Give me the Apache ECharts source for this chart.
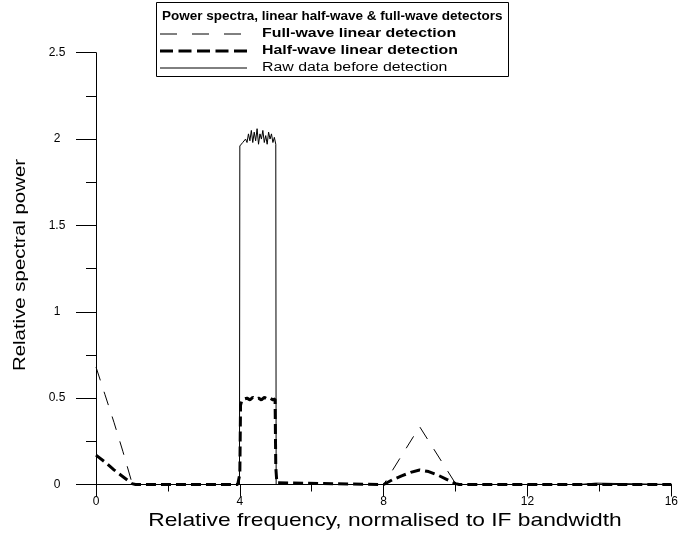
<!DOCTYPE html>
<html>
<head>
<meta charset="utf-8">
<script src="https://cdn.jsdelivr.net/npm/echarts@6/dist/echarts.min.js"></script>
<style>
  html, body { margin: 0; padding: 0; background: #fff; }
  #chart { width: 681px; height: 542px; }
</style>
</head>
<body>
<div id="chart"></div>
<script>
// Axis tick values
const xTickValues = [0, 4, 8, 12, 16];
const yTickValues = [0, 0.5, 1, 1.5, 2, 2.5];

// Raw IF signal spectrum (before detection)
const rawX = [0, 3.99, 4.00, 4.04, 4.08, 4.12, 4.16, 4.20, 4.24, 4.28, 4.32, 4.36, 4.40, 4.44, 4.48,
              4.52, 4.56, 4.60, 4.64, 4.68, 4.72, 4.76, 4.80, 4.84, 4.88, 4.92, 4.96, 5.00, 5.01,
              13.45, 13.5, 13.9, 13.95, 16];
const rawY = [0, 0, 1.96, 1.97, 1.98, 1.97, 2.00, 1.98, 2.03, 1.99, 2.05, 1.98, 2.04, 1.99, 2.06,
              1.97, 2.03, 2.00, 2.05, 1.98, 2.02, 1.97, 2.04, 2.00, 2.03, 1.98, 2.01, 1.97, 0,
              0, 0.008, 0.008, 0, 0];

// Full-wave linear detector output spectrum
const fullX = [0, 0.25, 0.5, 0.75, 1.0, 1.1, 8.0, 9.0, 10.0, 10.1, 16];
const fullY = [0.68, 0.52, 0.36, 0.19, 0.01, 0, 0, 0.335, 0.005, 0, 0];

// Half-wave linear detector output spectrum
const halfX = [0, 0.25, 0.5, 0.75, 1.0, 1.1, 3.94, 3.98, 4.0, 4.02, 4.06, 4.12, 4.2, 4.28, 4.36, 4.44,
               4.52, 4.6, 4.68, 4.76, 4.84, 4.92, 4.98, 5.0, 5.03, 5.08, 8.0, 8.25, 8.5, 8.75, 9.0,
               9.25, 9.5, 9.75, 10.0, 10.1, 16];
const halfY = [0.17, 0.13, 0.085, 0.045, 0.005, 0, 0, 0.01, 0.06, 0.46, 0.49, 0.495, 0.50, 0.49, 0.505, 0.495,
               0.50, 0.49, 0.505, 0.495, 0.50, 0.49, 0.495, 0.10, 0.01, 0, 0, 0.028, 0.05, 0.07, 0.084,
               0.075, 0.055, 0.03, 0.005, 0, 0];

const legendTitle = 'Power spectra, linear half-wave & full-wave detectors';
const seriesNames = ['Full-wave linear detection', 'Half-wave linear detection', 'Raw data before detection'];
const xAxisTitle = 'Relative frequency, normalised to IF bandwidth';
const yAxisTitle = 'Relative spectral power';

const zip = (xs, ys) => xs.map((x, i) => [x, ys[i]]);
const FONT = '"Liberation Sans", Arial, sans-serif';

const chart = echarts.init(document.getElementById('chart'), null, { renderer: 'canvas' });

// Legend box drawn as graphics (framed title + line samples)
const legendX0 = 160, legendX1 = 247, legendTextX = 262;
const legendRows = [34, 51, 68];
const legendStyles = [
  { lineWidth: 1, lineDash: [17, 15] },
  { lineWidth: 3, lineDash: [13, 5.5] },
  { lineWidth: 1, lineDash: null }
];
const graphics = [
  { type: 'rect', shape: { x: 156.5, y: 2.5, width: 352, height: 74 },
    style: { fill: '#fff', stroke: '#000', lineWidth: 1 }, z: 10 },
  { type: 'text', x: 162, y: 16, z: 11,
    style: { text: legendTitle, font: 'bold 13.5px ' + FONT, fill: '#000', verticalAlign: 'middle' } }
];
seriesNames.forEach((name, i) => {
  graphics.push({
    type: 'line', z: 11,
    shape: { x1: legendX0, y1: legendRows[i], x2: legendX1, y2: legendRows[i] },
    style: { stroke: '#000', lineWidth: legendStyles[i].lineWidth, lineDash: legendStyles[i].lineDash }
  });
  graphics.push({
    type: 'text', x: legendTextX, y: legendRows[i], scaleX: 1.27, z: 11,
    style: { text: name, font: (i < 2 ? 'bold ' : '') + '12.5px ' + FONT,
             fill: '#000', verticalAlign: 'middle' }
  });
});

// Axis titles, set slightly wide
graphics.push({
  type: 'text', x: 385, y: 521, scaleX: 1.2, z: 5,
  style: { text: xAxisTitle, font: '19px ' + FONT, fill: '#000', align: 'center', verticalAlign: 'middle' }
});
graphics.push({
  type: 'text', x: 20, y: 265, rotation: Math.PI / 2, scaleX: 1.2, z: 5,
  style: { text: yAxisTitle, font: '17px ' + FONT, fill: '#000', align: 'center', verticalAlign: 'middle' }
});

chart.setOption({
  animation: false,
  backgroundColor: '#fff',
  grid: { left: 96, right: 9, top: 52.7, bottom: 57.5 },
  xAxis: {
    type: 'value', min: xTickValues[0], max: xTickValues[xTickValues.length - 1], interval: 4,
    axisLine: { lineStyle: { color: '#000', width: 1 } },
    axisTick: { length: 12, lineStyle: { color: '#000' } },
    minorTick: { show: true, splitNumber: 2, length: 7, lineStyle: { color: '#000' } },
    axisLabel: { fontFamily: FONT, fontSize: 12, color: '#000', margin: 11 },
    splitLine: { show: false }
  },
  yAxis: {
    type: 'value', min: yTickValues[0], max: yTickValues[yTickValues.length - 1], interval: 0.5,
    axisLine: { lineStyle: { color: '#000', width: 1 } },
    axisTick: { length: 20, lineStyle: { color: '#000' } },
    minorTick: { show: true, splitNumber: 2, length: 10, lineStyle: { color: '#000' } },
    axisLabel: { fontFamily: FONT, fontSize: 12, color: '#000', margin: 39, align: 'center' },
    splitLine: { show: false }
  },
  series: [
    { name: seriesNames[2], type: 'line', data: zip(rawX, rawY), showSymbol: false,
      lineStyle: { color: '#000', width: 1 }, z: 2 },
    { name: seriesNames[0], type: 'line', data: zip(fullX, fullY), showSymbol: false,
      lineStyle: { color: '#000', width: 1, type: [14, 12] }, z: 3 },
    { name: seriesNames[1], type: 'line', data: zip(halfX, halfY), showSymbol: false,
      lineStyle: { color: '#000', width: 3, type: [10, 5] }, z: 4 }
  ],
  graphic: graphics
});
</script>
</body>
</html>
